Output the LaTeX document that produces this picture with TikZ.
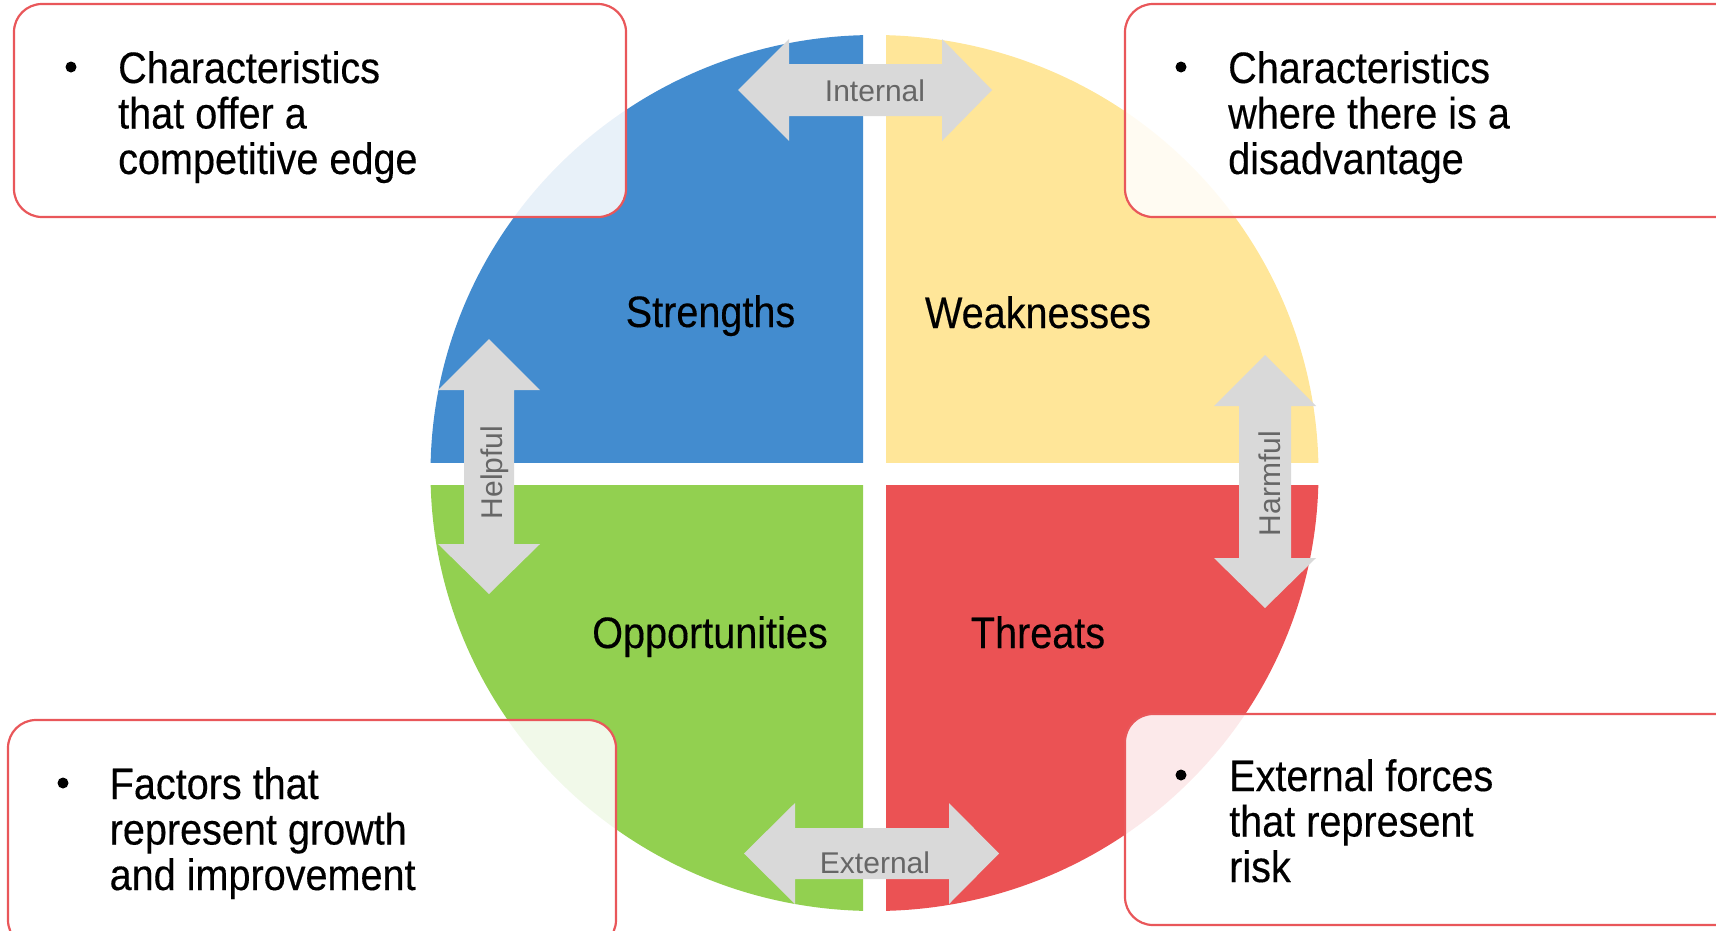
\documentclass[tikz,border=0pt]{standalone}
\usepackage{fontspec}
\setmainfont{Liberation Sans}
\newfontfamily\swotfont{Liberation Sans}[FakeStretch=0.9,FakeBold=0.3]

\definecolor{swotblue}{HTML}{438CCF}
\definecolor{swotyellow}{HTML}{FFE699}
\definecolor{swotgreen}{HTML}{92D050}
\definecolor{swotred}{HTML}{EB5254}
\definecolor{boxline}{HTML}{E9575A}
\definecolor{arrowgray}{HTML}{D9D9D9}
\definecolor{arrowtext}{HTML}{666666}

\tikzset{
  quadlabel/.style={anchor=base, inner sep=0pt, text=black,
    font=\swotfont\fontsize{44}{45.5}\selectfont},
  bodytext/.style={anchor=base west, inner sep=0pt, text=black,
    font=\swotfont\fontsize{44}{45.5}\selectfont},
  bulletdot/.style={circle, fill=black, minimum size=11pt, inner sep=0pt},
  calloutbox/.style={draw=boxline, line width=2.2pt, fill=white, fill opacity=0.88,
    rounded corners=28pt},
  arrowshape/.style={fill=arrowgray},
  arrowlabel/.style={anchor=base, inner sep=0pt, text=arrowtext,
    font=\fontsize{30}{34}\selectfont},
}

\begin{document}
\begin{tikzpicture}[x=1pt,y=-1pt]
\useasboundingbox (0,0) rectangle (1716,930);
\clip (0,0) rectangle (1716,930);

% four quadrants of the SWOT disc, separated by white gaps
\begin{scope}
  \clip (0,0) rectangle (863,462);
  \fill[swotblue] (874.5,473) ellipse [x radius=444, y radius=438];
\end{scope}
\begin{scope}
  \clip (886,0) rectangle (1716,462);
  \fill[swotyellow] (874.5,473) ellipse [x radius=444, y radius=438];
\end{scope}
\begin{scope}
  \clip (0,485) rectangle (863,930);
  \fill[swotgreen] (874.5,473) ellipse [x radius=444, y radius=438];
\end{scope}
\begin{scope}
  \clip (886,485) rectangle (1716,930);
  \fill[swotred] (874.5,473) ellipse [x radius=444, y radius=438];
\end{scope}

% quadrant titles
\node[quadlabel] (strengths) at (710.5,327) {Strengths};
\node[quadlabel] (weaknesses) at (1038,328) {Weaknesses};
\node[quadlabel] (opportunities) at (710,648) {Opportunities};
\node[quadlabel] (threats) at (1038,648) {Threats};

% double-headed axis arrows
\fill[arrowshape] (738,90) -- (789,39) -- (789,64) -- (942,64) -- (942,39)
  -- (992,90) -- (942,141) -- (942,116) -- (789,116) -- (789,141) -- cycle;
\node[arrowlabel] (internal) at (875,101.5) {Internal};

\fill[arrowshape] (744,853.5) -- (795,803) -- (795,828) -- (949,828) -- (949,803)
  -- (999,853.5) -- (949,904) -- (949,879) -- (795,879) -- (795,904) -- cycle;
\node[arrowlabel] (external) at (875,873) {External};

\fill[arrowshape] (489,339) -- (540,390) -- (514,390) -- (514,544) -- (540,544)
  -- (489,594) -- (438,544) -- (464,544) -- (464,390) -- (438,390) -- cycle;
\node[arrowlabel, rotate=90] (helpful) at (502,472.5) {Helpful};

\fill[arrowshape] (1265,355) -- (1316,406) -- (1291,406) -- (1291,558) -- (1316,558)
  -- (1265,608) -- (1214,558) -- (1239,558) -- (1239,406) -- (1214,406) -- cycle;
\node[arrowlabel, rotate=90] (harmful) at (1280,483.5) {Harmful};

% callout boxes
\draw[calloutbox] (14,4) rectangle (626,217);
\draw[calloutbox] (1125,4) rectangle (1760,217);
\draw[calloutbox] (8,720) rectangle (616,948);
\draw[calloutbox] (1125,714) rectangle (1760,925);

% callout texts
\node[bulletdot] (sbullet) at (71,67) {};
\node[bodytext] (stext) at (118,83)
  {\parbox[t]{480pt}{Characteristics\\that offer a\\competitive edge}};

\node[bulletdot] (wbullet) at (1181,67) {};
\node[bodytext] (wtext) at (1228,83)
  {\parbox[t]{480pt}{Characteristics\\where there is a\\disadvantage}};

\node[bulletdot] (obullet) at (63,783) {};
\node[bodytext] (otext) at (109.5,799)
  {\parbox[t]{480pt}{Factors that\\represent growth\\and improvement}};

\node[bulletdot] (tbullet) at (1181,775) {};
\node[bodytext] (ttext) at (1229,791)
  {\parbox[t]{480pt}{External forces\\that represent\\risk}};
\end{tikzpicture}
\end{document}
